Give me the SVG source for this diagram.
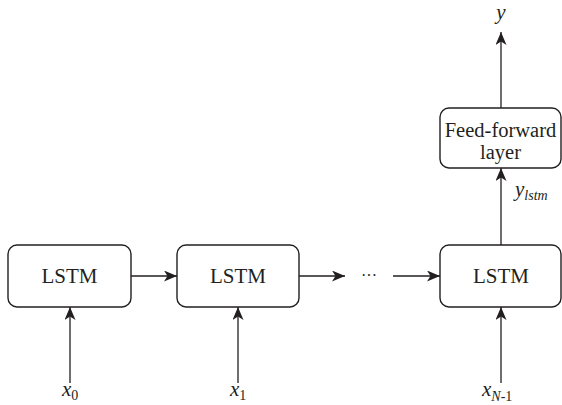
<svg xmlns="http://www.w3.org/2000/svg" width="562" height="405" viewBox="0 0 562 405">
  <defs>
    <style>
      .box { fill: #ffffff; stroke: #231f20; stroke-width: 1.4; }
      text { font-family: 'Liberation Serif', 'Times New Roman', serif; fill: #231f20; }
      .lbl { font-size: 21px; text-anchor: middle; }
      .math { font-style: italic; font-size: 21px; }
      .sub { font-size: 14px; font-style: normal; }
      .subi { font-size: 14px; }
      .edge { stroke: #231f20; stroke-width: 1.3; fill: none; marker-end: url(#arr); }
    </style>
    <marker id="arr" viewBox="0 0 13 11" refX="13" refY="5.5" markerWidth="13" markerHeight="11" markerUnits="userSpaceOnUse" orient="auto">
      <path d="M0,0 L13,5.5 L0,11 L3.5,5.5 Z" fill="#231f20"/>
    </marker>
  </defs>

  <g id="connectors">
    <line class="edge" x1="131" y1="276" x2="177" y2="276"/>
    <line class="edge" x1="299" y1="276" x2="345" y2="276"/>
    <line class="edge" x1="393" y1="276" x2="440" y2="276"/>
    <line class="edge" x1="70" y1="383" x2="70" y2="307"/>
    <line class="edge" x1="238" y1="383" x2="238" y2="307"/>
    <line class="edge" x1="501" y1="383" x2="501" y2="307"/>
    <line class="edge" x1="501" y1="245" x2="501" y2="168"/>
    <line class="edge" x1="501" y1="108" x2="501" y2="32"/>
    <text class="lbl" x="369" y="281" style="font-size:16px">···</text>
  </g>

  <g id="lstm0">
    <rect class="box" x="8" y="245" width="123" height="62" rx="9"/>
    <text class="lbl" x="69.5" y="283">LSTM</text>
  </g>
  <g id="lstm1">
    <rect class="box" x="177" y="245" width="122" height="62" rx="9"/>
    <text class="lbl" x="238" y="283">LSTM</text>
  </g>
  <g id="lstm2">
    <rect class="box" x="440" y="245" width="121" height="62" rx="9"/>
    <text class="lbl" x="501" y="283">LSTM</text>
  </g>
  <g id="ff">
    <rect class="box" x="440" y="108" width="121" height="60" rx="9"/>
    <text class="lbl" x="500.5" y="137" style="font-size:20.5px">Feed-forward</text>
    <text class="lbl" x="500.5" y="159" style="font-size:20.5px">layer</text>
  </g>

  <g id="x0">
    <text class="math" x="62" y="396">x<tspan class="sub" dy="4">0</tspan></text>
  </g>
  <g id="x1">
    <text class="math" x="230" y="396">x<tspan class="sub" dy="4">1</tspan></text>
  </g>
  <g id="xN1">
    <text class="math" x="482" y="396">x<tspan class="subi" dy="5">N</tspan><tspan class="sub">-1</tspan></text>
  </g>
  <g id="ylstm">
    <text class="math" x="515" y="196">y<tspan class="subi" dy="4">lstm</tspan></text>
  </g>
  <g id="y">
    <text class="math" x="501" y="19" text-anchor="middle">y</text>
  </g>
</svg>
